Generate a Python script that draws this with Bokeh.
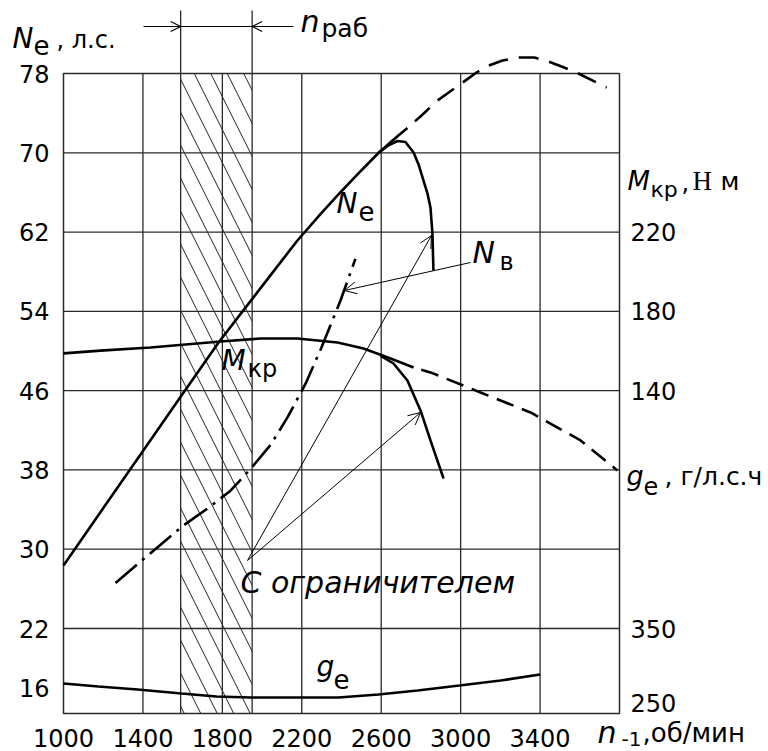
from bokeh.plotting import figure
from bokeh.models import Range1d, Label, Arrow, OpenHead
from bokeh.embed import file_html
from bokeh.resources import INLINE

# ---------------- data ----------------
X_TICKS = [1000, 1400, 1800, 2200, 2600, 3000, 3400]
NE_TICKS = [16, 22, 30, 38, 46, 54, 62, 70, 78]
MKR_TICKS = [140, 180, 220]
GE_TICKS = [250, 350]
N_WORK = [1590, 1950]          # n_раб working band, rpm

ne_rpm = [1000, 1186, 1388, 1589, 1781, 1891, 2042, 2178, 2294, 2395, 2496, 2586, 2647, 2697, 2732]
ne_hp = [28.36, 33.74, 39.55, 45.36, 50.86, 53.72, 57.63, 61.15, 63.80, 66.02, 68.14, 69.98,
         71.07, 71.93, 72.50]
ne_ext_rpm = [2732, 2803, 2884, 2954, 3080, 3130, 3211, 3296, 3372, 3442, 3508, 3583, 3735]
ne_ext_hp = [72.50, 73.76, 75.28, 76.28, 78.10, 78.71, 79.31, 79.61, 79.61, 79.21, 78.71, 78.10, 76.59]
nelim_rpm = [2586, 2637, 2682, 2722, 2763, 2788, 2813, 2833, 2848, 2858, 2863]
nelim_hp = [69.98, 70.76, 71.19, 71.09, 70.03, 68.82, 67.20, 65.89, 64.48, 61.86, 58.12]
nv_rpm = [1262, 1438, 1604, 1725, 1841, 1942, 2042, 2128, 2219, 2294, 2395, 2470]
nv_hp = [26.6, 29.6, 32.4, 34.1, 35.9, 38.1, 40.5, 43.3, 46.7, 50.1, 55.1, 59.3]
mkr_rpm = [1000, 1186, 1438, 1791, 1992, 2178, 2380, 2511, 2647, 2763]
mkr_nm = [158.8, 160.2, 161.8, 164.8, 166.3, 166.3, 164.3, 161.3, 156.2, 151.7]
mkr_ext_rpm = [2763, 2848, 3100, 3352, 3604, 3790]
mkr_ext_nm = [151.7, 149.2, 139.1, 129.0, 114.9, 99.7]
mkrlim_rpm = [2596, 2662, 2732, 2798, 2848, 2914]
mkrlim_nm = [157.7, 153.7, 145.1, 130.0, 114.9, 95.7]
ge_rpm = [1000, 1176, 1373, 1594, 1770, 1942, 2163, 2385, 2586, 2783, 2994, 3201, 3400]
ge_val = [276.0, 272.0, 267.9, 262.5, 258.5, 257.2, 257.2, 257.2, 261.2, 266.6, 273.3, 280.0, 288.1]

# ---------------- layout helpers (pixel layout of the drawing) ----------------
X_MIN, X_MAX = 1000, 3800
PX_L, PX_R = 63, 619
PY_78, PY_22 = 73, 628
K = (PY_22 - PY_78) / (78 - 22)
W, H = 768, 751


def xd(px):
    return X_MIN + (px - PX_L) * (X_MAX - X_MIN) / (PX_R - PX_L)


def yd(py):
    return 78 - (py - PY_78) / K


def n_to_m(n):
    return 5 * n - 90


def n_to_g(n):
    return 350 + (n - 22) * 100 / 7.5


Y0, Y1 = yd(H), yd(0)
BOX_BOTTOM = yd(713)

p = figure(width=W, height=H, x_range=Range1d(xd(0), xd(W)), y_range=Range1d(Y0, Y1),
           min_border=0, min_border_left=0, min_border_right=0, min_border_top=0,
           min_border_bottom=0, x_axis_location=None, y_axis_location=None,
           output_backend="svg", toolbar_location=None, title=None)
p.extra_y_ranges = {"mkr": Range1d(n_to_m(Y0), n_to_m(Y1)),
                    "ge": Range1d(n_to_g(Y0), n_to_g(Y1))}
p.outline_line_color = None
p.grid.visible = False

FONT = "DejaVu Sans"
GRID = "#2a2a2a"

# working band hatch
p.quad(left=[N_WORK[0]], right=[N_WORK[1]], bottom=[BOX_BOTTOM], top=[78],
       fill_color=None, line_color=None, hatch_pattern="\\", hatch_color="#222222",
       hatch_weight=1, hatch_scale=33)
# grid
gx = X_TICKS[1:]
p.segment(x0=gx, y0=[BOX_BOTTOM] * len(gx), x1=gx, y1=[78] * len(gx),
          line_color=GRID, line_width=1.3)
gy = NE_TICKS[1:-1]
p.segment(x0=[X_MIN] * len(gy), y0=gy, x1=[X_MAX] * len(gy), y1=gy,
          line_color=GRID, line_width=1.3)
p.segment(x0=N_WORK, y0=[BOX_BOTTOM] * 2, x1=N_WORK, y1=[yd(10)] * 2,
          line_color=GRID, line_width=1.3)
p.quad(left=[X_MIN], right=[X_MAX], bottom=[BOX_BOTTOM], top=[78],
       fill_color=None, line_color=GRID, line_width=1.5)

LW = 2.6
p.line(ne_rpm, ne_hp, line_color="black", line_width=LW)
p.line(ne_ext_rpm, ne_ext_hp, line_color="black", line_width=LW, line_dash="20 11",
       line_dash_offset=-10)
p.line(nelim_rpm, nelim_hp, line_color="black", line_width=LW)
p.line(nv_rpm, nv_hp, line_color="black", line_width=LW, line_dash="28 7 3 7")
p.line(mkr_rpm, mkr_nm, line_color="black", line_width=LW, y_range_name="mkr")
p.line(mkr_ext_rpm, mkr_ext_nm, line_color="black", line_width=LW, line_dash="18 9",
       line_dash_offset=-8, y_range_name="mkr")
p.line(mkrlim_rpm, mkrlim_nm, line_color="black", line_width=LW, y_range_name="mkr")
p.line(ge_rpm, ge_val, line_color="black", line_width=LW, y_range_name="ge")

# ---------------- tick labels (placed through the scales) ----------------
TICK_FONT = "24px"
for t in X_TICKS:
    p.add_layout(Label(x=t, y=yd(737), text=str(t), text_font=FONT, text_font_size=TICK_FONT,
                       text_align="center", text_baseline="middle", text_color="black"))
for t in NE_TICKS:
    p.add_layout(Label(x=X_MIN, y=t, x_offset=-14, text=str(t), text_font=FONT,
                       text_font_size=TICK_FONT, text_align="right", text_baseline="middle",
                       text_color="black"))
for t in MKR_TICKS:
    p.add_layout(Label(x=X_MAX, y=t, x_offset=11, text=str(t), text_font=FONT,
                       text_font_size=TICK_FONT, text_align="left", text_baseline="middle",
                       text_color="black", y_range_name="mkr"))
for t in GE_TICKS:
    p.add_layout(Label(x=X_MAX, y=t, x_offset=11, text=str(t), text_font=FONT,
                       text_font_size=TICK_FONT, text_align="left", text_baseline="middle",
                       text_color="black", y_range_name="ge"))


def lab(text, px, base_py, size, italic=False, font=FONT):
    # base_py: pixel row of the text baseline; placed by its middle line
    mid_py = base_py - 0.35 * size
    p.add_layout(Label(x=xd(px), y=yd(mid_py), text=text, text_font=font,
                       text_font_size=f"{size}px",
                       text_font_style="italic" if italic else "normal",
                       text_align="left", text_baseline="middle",
                       text_color="black"))


# axis titles
lab("N", 12, 48, 28, True)
lab("e", 33, 54, 26)
lab(", л.с.", 56, 48, 24)
lab("n", 300, 31, 30, True)
lab("раб", 321, 37, 25)
lab("M", 627, 190, 26, True)
lab("кр", 650, 197, 22)
lab(",", 681, 190, 24)
lab("Н", 692, 190, 27, False, "Liberation Serif")
lab("м", 720, 190, 25)
lab("g", 626, 484, 27, True)
lab("e", 643, 494, 24)
lab(", г/л.с.ч", 664, 485, 25)
lab("n", 597, 742, 30, True)
lab("-1", 621, 745, 20)
lab(",об/мин", 642, 742, 26)
# curve labels
lab("N", 336, 213, 28, True)
lab("e", 358, 220, 26)
lab("M", 221, 370, 28, True)
lab("кр", 247, 377, 24)
lab("N", 472, 262, 30, True)
lab("в", 499, 270, 24)
lab("g", 316, 676, 28, True)
lab("e", 333, 688, 26)
lab("С ограничителем", 240, 592, 30, True)

# pointer arrows
for (x0, y0, x1, y1) in [(470, 262, 344, 290), (247, 560, 431, 235), (247, 560, 420, 412)]:
    p.add_layout(Arrow(end=OpenHead(size=12, line_width=1, line_color="black"),
                       x_start=xd(x0), y_start=yd(y0), x_end=xd(x1), y_end=yd(y1),
                       line_width=1, line_color="black"))
# dimension arrows for n_раб
p.add_layout(Arrow(end=OpenHead(size=10, line_width=1.2), x_start=xd(143), y_start=yd(26),
                   x_end=N_WORK[0], y_end=yd(26), line_width=1.2))
p.add_layout(Arrow(end=OpenHead(size=10, line_width=1.2), x_start=xd(293), y_start=yd(26),
                   x_end=N_WORK[1], y_end=yd(26), line_width=1.2))
p.segment(x0=[N_WORK[0]], y0=[yd(26)], x1=[N_WORK[1]], y1=[yd(26)],
          line_color="black", line_width=1.2)

open("out.html", "w").write(file_html(p, INLINE))
